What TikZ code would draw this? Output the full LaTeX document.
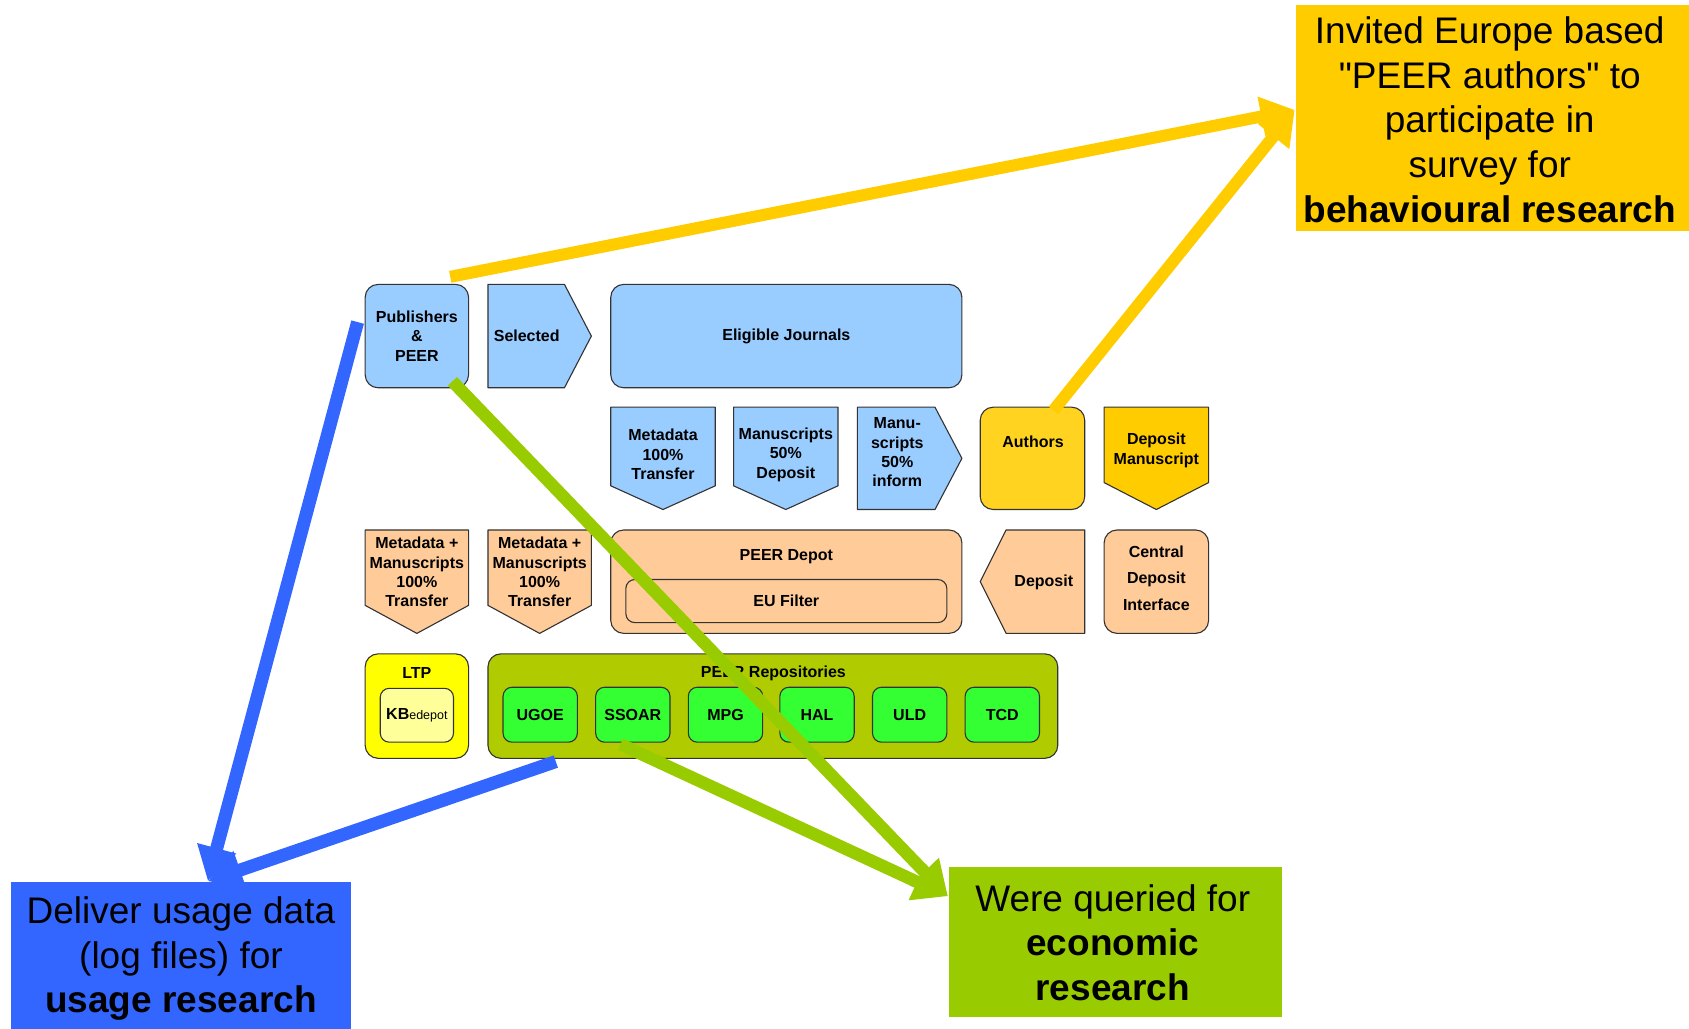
\documentclass[tikz,border=0pt]{standalone}
\usepackage{fontspec}
\setmainfont{Liberation Sans}[Ligatures=TeXOff]
\usetikzlibrary{arrows.meta,calc}
\definecolor{lblue}{HTML}{99CCFF}
\definecolor{peach}{HTML}{FFCC99}
\definecolor{gold}{HTML}{FFD320}
\definecolor{goldb}{HTML}{FFCC00}
\definecolor{ltpyel}{HTML}{FFFF00}
\definecolor{kbyel}{HTML}{FFFF99}
\definecolor{olive}{HTML}{B0CC00}
\definecolor{brgreen}{HTML}{33FF33}
\definecolor{bigblue}{HTML}{3366FF}
\definecolor{biggreen}{HTML}{99CC00}
\definecolor{bigyellow}{HTML}{FFCC00}
\definecolor{edge}{HTML}{333333}
\begin{document}
\begin{tikzpicture}[x=1.0772pt,y=-1.0772pt,
  shp/.style={draw=edge,line width=1.1pt,line join=round},
  rbox/.style={shp,rounded corners=13pt},
  sbox/.style={shp,rounded corners=9pt},
  txt/.style={font=\fontsize{16}{19.4}\selectfont\bfseries,align=center,inner sep=0pt},
  big/.style={font=\fontsize{37}{44.7}\selectfont,align=center,inner sep=0pt},
  yarr/.style={draw=bigyellow,line width=12pt,-{Triangle[length=34pt,width=38pt]}},
  barr/.style={draw=bigblue,line width=13pt,-{Triangle[length=34pt,width=38pt]}},
  garr/.style={draw=biggreen,line width=12.5pt,-{Triangle[length=34pt,width=38pt]}}]
\useasboundingbox (0,0) rectangle (1568,955);
\fill[white] (0,0) rectangle (1568,955);

% ---------- row 1
\path[rbox,fill=lblue] (339,264) rectangle (435,360);
\node[txt] (pub) at (387,312) {Publishers\\\&\\PEER};
\path[shp,fill=lblue] (453,264) -- (524,264) -- (549,312) -- (524,360) -- (453,360) -- cycle;
\node[txt] (sel) at (489,312) {Selected};
\path[rbox,fill=lblue] (567,264) rectangle (893,360);
\node[txt] (elig) at (730,312) {Eligible Journals};

% ---------- row 2
\path[shp,fill=lblue] (567,378) -- (664,378) -- (664,451) -- (615.5,473) -- (567,451) -- cycle;
\node[txt] (md) at (615.5,422) {Metadata\\100\%\\Transfer};
\path[shp,fill=lblue] (681,378) -- (778,378) -- (778,451) -- (729.5,473) -- (681,451) -- cycle;
\node[txt] (ms) at (729.5,422) {Manuscripts\\50\%\\Deposit};
\path[shp,fill=lblue] (796,378) -- (868,378) -- (893,425.5) -- (868,473) -- (796,473) -- cycle;
\node[txt] (msi) at (833,420) {Manu-\\scripts\\50\%\\inform};
\path[rbox,fill=gold] (910,378) rectangle (1007,473);
\node[txt] (auth) at (959,410) {Authors};
\path[shp,fill=goldb] (1025,378) -- (1122,378) -- (1122,448) -- (1073.5,473) -- (1025,448) -- cycle;
\node[txt] (dm) at (1073.5,418) {Deposit\\Manuscript};

% ---------- row 3
\path[shp,fill=peach] (339,492) -- (435,492) -- (435,562) -- (387,588) -- (339,562) -- cycle;
\node[txt] (mm1) at (387,531) {Metadata +\\Manuscripts\\100\%\\Transfer};
\path[shp,fill=peach] (453,492) -- (549,492) -- (549,562) -- (501,588) -- (453,562) -- cycle;
\node[txt] (mm2) at (501,531) {Metadata +\\Manuscripts\\100\%\\Transfer};
\path[rbox,fill=peach] (567,492) rectangle (893,588);
\node[txt] (depot) at (730,517) {PEER Depot};
\path[sbox,fill=peach] (581,538) rectangle (879,578);
\node[txt] (eu) at (730,558) {EU Filter};
\path[shp,fill=peach] (1007,492) -- (1007,588) -- (934,588) -- (910,540) -- (934,492) -- cycle;
\node[txt] (dep) at (969,541) {Deposit};
\path[rbox,fill=peach] (1025,492) rectangle (1122,588);
\node[txt,font=\fontsize{16}{26.4}\selectfont\bfseries] (cdi) at (1073.5,536.5) {Central\\Deposit\\Interface};

% ---------- row 4
\path[rbox,fill=ltpyel] (339,607) rectangle (435,704);
\node[txt] (ltp) at (387,625) {LTP};
\path[sbox,fill=kbyel] (353,639) rectangle (421,689);
\node[txt] (kb) at (387,664) {KB{\fontsize{12.5}{15}\selectfont\mdseries edepot}};
\path[rbox,fill=olive] (453,607) rectangle (982,704);
\node[txt] (repo) at (718,625) {PEER Repositories};
\foreach \n/\t/\x in {ugoe/UGOE/467,ssoar/SSOAR/553,mpg/MPG/639,hal/HAL/724,uld/ULD/810,tcd/TCD/896}{
  \path[sbox,fill=brgreen] (\x,638) rectangle ++(69,51);
  \node[txt] (\n) at (\x+34.5,664) {\t};
}

% ---------- big boxes
\fill[bigyellow] (1203,5) rectangle (1568,214);
\node[big] (yel) at (1383,111) {Invited Europe based\\"PEER authors" to\\participate in\\survey for\\\textbf{behavioural research}};
\fill[bigblue] (10,819) rectangle (326,955);
\node[big] (blu) at (168,890) {Deliver usage data\\(log files) for\\\textbf{usage research}};
\fill[biggreen] (881,805) rectangle (1190,944);
\node[big] (grn) at (1033,875) {Were queried for\\\textbf{economic}\\\textbf{research}};

% ---------- arrow ends
\coordinate (ytip) at (1202,102);
\coordinate (btip) at (193,818);
\coordinate (gtip) at (880,832);
\coordinate (ys1) at (418,257);
\coordinate (ys2) at (978,381);
\coordinate (bs1) at (332,299);
\coordinate (bs2) at (516,707);
\coordinate (gs1) at (420,354);
\coordinate (gs2) at (576,691);

\draw[yarr] (ys1) -- (ytip);
\draw[yarr] (ys2) -- (ytip);
\draw[barr] (bs1) -- (btip);
\draw[barr] (bs2) -- (btip);
\draw[garr] (gs1) -- (gtip);
\draw[garr] (gs2) -- (gtip);
\end{tikzpicture}
\end{document}
